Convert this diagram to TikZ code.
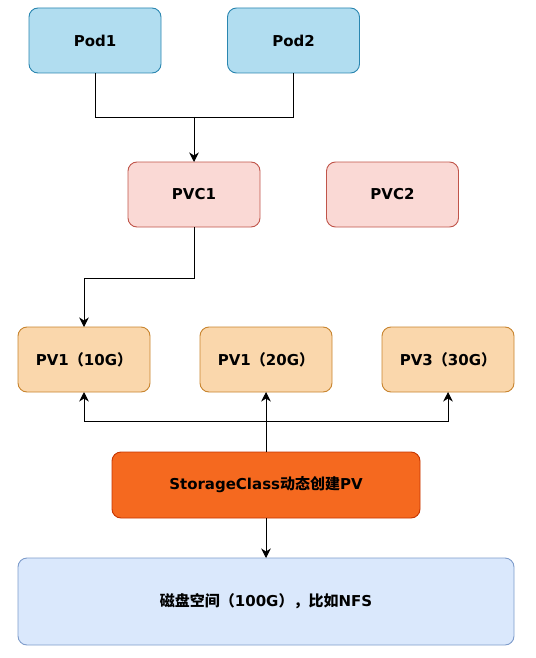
\documentclass[tikz,border=0pt]{standalone}
\usepackage{fontspec}
\setmainfont{DejaVu Sans}
\newfontfamily\cjk{Noto Sans CJK SC}
\usetikzlibrary{arrows.meta}
\definecolor{podfill}{HTML}{B1DDF0}
\definecolor{podline}{HTML}{2A86B0}
\definecolor{pvcfill}{HTML}{FAD9D5}
\definecolor{pvcline}{HTML}{C0554A}
\definecolor{pvfill}{HTML}{FAD7AC}
\definecolor{pvline}{HTML}{C8842E}
\definecolor{scfill}{HTML}{F5691F}
\definecolor{scline}{HTML}{C73500}
\definecolor{diskfill}{HTML}{DAE8FC}
\definecolor{diskline}{HTML}{7E9CCB}
\tikzset{
  box/.style={rounded corners=9pt, line width=0.9pt, inner sep=0pt, outer sep=0pt,
    font=\fontsize{15}{18}\selectfont\bfseries, text=black},
  podbox/.style={box, fill=podfill, draw=podline, minimum width=132pt, minimum height=65pt},
  pvcbox/.style={box, fill=pvcfill, draw=pvcline, minimum width=132pt, minimum height=65pt},
  pvbox/.style={box, fill=pvfill, draw=pvline, minimum width=132pt, minimum height=65pt},
  scbox/.style={box, fill=scfill, draw=scline, minimum width=308pt, minimum height=66pt},
  diskbox/.style={box, fill=diskfill, draw=diskline, minimum width=496pt, minimum height=87pt},
  link/.style={line width=0.9pt, draw=black},
  arr/.style={link, -{Stealth[length=9.5pt,width=9.5pt,inset=3pt]}}
}
\begin{document}
\begin{tikzpicture}[x=1pt,y=1pt]
\useasboundingbox (0,0) rectangle (535,-658);
\node[podbox] (pod1) at (95,-40.5) {Pod1};
\node[podbox] (pod2) at (293.5,-40.5) {Pod2};
\node[pvcbox] (pvc1) at (194,-194.5) {PVC1};
\node[pvcbox] (pvc2) at (392.5,-194.5) {PVC2};
\node[pvbox] (pv1) at (84,-359.5) {PV1{\cjk\bfseries （}10G{\cjk\bfseries ）}};
\node[pvbox] (pv2) at (266,-359.5) {PV1{\cjk\bfseries （}20G{\cjk\bfseries ）}};
\node[pvbox] (pv3) at (448,-359.5) {PV3{\cjk\bfseries （}30G{\cjk\bfseries ）}};
\node[scbox] (sc) at (266,-485) {StorageClass{\cjk\bfseries 动态创建}PV};
\node[diskbox] (disk) at (266,-601.5) {{\cjk\bfseries 磁盘空间（}100G{\cjk\bfseries ），比如}NFS};
\coordinate (j1) at (194,-117);
\coordinate (j2) at (194,-278);
\coordinate (j3) at (266,-421);
\draw[link] (pod1.south) |- (j1);
\draw[link] (pod2.south) |- (j1);
\draw[arr] (j1) -- (pvc1.north);
\draw[arr] (pvc1.south) -- (j2) -| (pv1.north);
\draw[arr] (sc.north) -- (pv2.south);
\draw[arr] (j3) -| (pv1.south);
\draw[arr] (j3) -| (pv3.south);
\draw[arr] (sc.south) -- (disk.north);
\end{tikzpicture}
\end{document}
